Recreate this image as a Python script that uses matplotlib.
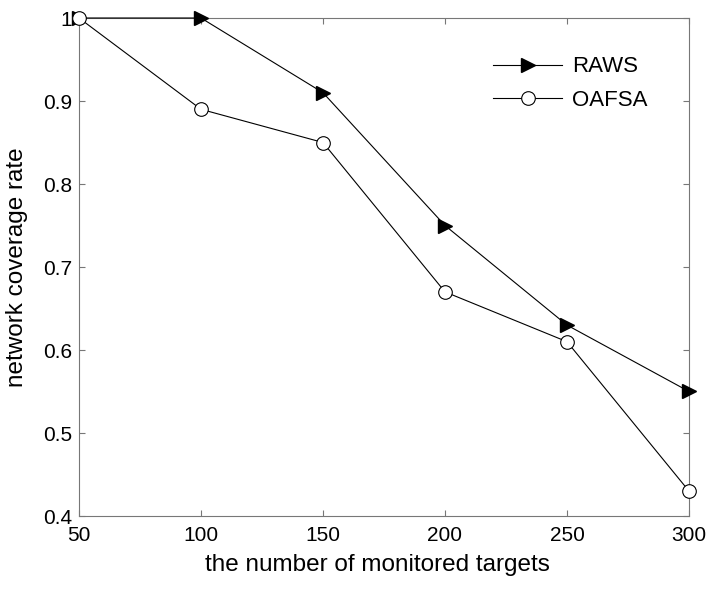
import matplotlib
matplotlib.use("Agg")
import matplotlib.pyplot as plt

x_targets = [50, 100, 150, 200, 250, 300]
raws = [1.0, 1.0, 0.91, 0.75, 0.63, 0.55]
oafsa = [1.0, 0.89, 0.85, 0.67, 0.61, 0.43]
xticks = [50, 100, 150, 200, 250, 300]
yticks = [0.4, 0.5, 0.6, 0.7, 0.8, 0.9, 1.0]
ytick_labels = ["0.4", "0.5", "0.6", "0.7", "0.8", "0.9", "1"]

plt.rcParams['font.family'] = ['Liberation Sans', 'DejaVu Sans']

fig = plt.figure(figsize=(7.16, 5.9), dpi=100)
ax = fig.add_axes([79/716, 74/590, 610/716, 498/590])

ax.plot(x_targets, raws, color='black', lw=0.8, marker='>', markersize=10,
        markerfacecolor='black', markeredgecolor='black', label='RAWS', clip_on=False, zorder=3)
ax.plot(x_targets, oafsa, color='black', lw=0.8, marker='o', markersize=9.8,
        markerfacecolor='white', markeredgecolor='black', markeredgewidth=0.8,
        label='OAFSA', clip_on=False, zorder=4)

ax.set_xlim(50, 300)
ax.set_ylim(0.4, 1.0)
ax.set_xticks(xticks)
ax.set_yticks(yticks)
ax.set_yticklabels(ytick_labels)
ax.tick_params(direction='in', top=True, right=True, length=4.5, width=0.8,
               labelsize=15, colors='#777777', labelcolor='black')
ax.tick_params(axis='y', pad=5)
ax.tick_params(axis='x', pad=7)
for s in ax.spines.values():
    s.set_color('#777777')
    s.set_linewidth(0.8)

ax.set_xlabel('the number of monitored targets', fontsize=17.5)
ax.set_ylabel('network coverage rate', fontsize=17.5)
ax.xaxis.set_label_coords(0.489, -0.076)
ax.yaxis.set_label_coords(-0.084, 0.5)

leg = ax.legend(loc='upper left', bbox_to_anchor=(0.679, 0.923), frameon=False,
                fontsize=16, handlelength=3.1, labelspacing=0.55, handletextpad=0.45,
                borderpad=0, borderaxespad=0)

fig.savefig('out.png', dpi=100)
